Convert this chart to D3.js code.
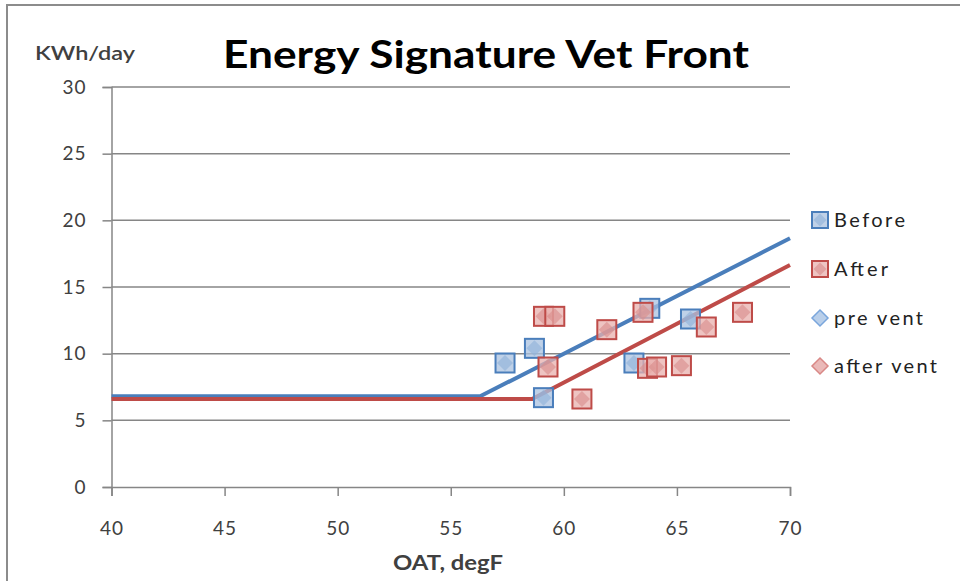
<!DOCTYPE html>
<html>
<head>
<meta charset="utf-8">
<script src="https://cdn.jsdelivr.net/npm/d3@7"></script>
<style>
  html, body { margin: 0; padding: 0; background: #fff; }
  svg { display: block; }
</style>
</head>
<body>
<svg id="chart" width="960" height="581"></svg>
<script>
// ---- Data ----
const title = "Energy Signature Vet Front";
const yAxisLabel = "KWh/day";
const xAxisLabel = "OAT, degF";
const xTicks = [40, 45, 50, 55, 60, 65, 70];
const yTicks = [0, 5, 10, 15, 20, 25, 30];

const beforeOAT = [57.4, 58.7, 59.1, 63.1, 63.8, 65.6];
const beforeKWh = [9.3, 10.4, 6.7, 9.3, 13.4, 12.6];

const afterOAT = [59.1, 59.6, 59.3, 60.8, 61.9, 63.5, 63.7, 64.1, 65.2, 66.3, 67.9];
const afterKWh = [12.8, 12.8, 9.0, 6.6, 11.8, 13.1, 8.9, 9.0, 9.1, 12.0, 13.1];

const preVentOAT = [40, 56.3, 70];
const preVentKWh = [6.8, 6.8, 18.65];
const afterVentOAT = [40, 58.6, 70];
const afterVentKWh = [6.6, 6.6, 16.65];

const legendLabels = ["Before", "After", "pre vent", "after vent"];

// ---- Layout ----
const svg = d3.select("#chart");
const x = d3.scaleLinear().domain([40, 70]).range([111.5, 790]);
const y = d3.scaleLinear().domain([0, 30]).range([487, 87]);

const blue = "#4a7ebb", blueFill = "#a9c1e0", blueInner = "#8fb0d8";
const red = "#be4b48", redFill = "#e8b0ae", redInner = "#d98c8a";
const axisColor = "#868686";
const fontFam = "Lato, 'Open Sans', 'DejaVu Sans', sans-serif";
const textColor = "#404040";

// outer chart border
svg.append("rect").attr("x", 7).attr("y", 5).attr("width", 970).attr("height", 600)
  .attr("fill", "none").attr("stroke", "#8c8c8c").attr("stroke-width", 2);

// gridlines
svg.append("g").selectAll("line").data(yTicks.filter(d => d > 0)).join("line")
  .attr("x1", x(40)).attr("x2", x(70))
  .attr("y1", d => y(d)).attr("y2", d => y(d))
  .attr("stroke", axisColor).attr("stroke-width", 1.5);

// y axis
const yAxis = d3.axisLeft(y).tickValues(yTicks).tickSize(9).tickPadding(16);
const gy = svg.append("g").attr("transform", `translate(${x(40)},0)`).call(yAxis);
gy.select(".domain").attr("stroke", axisColor).attr("stroke-width", 1.5);
gy.selectAll(".tick line").attr("stroke", axisColor).attr("stroke-width", 1.5);
gy.selectAll(".tick text").attr("font-family", fontFam).attr("font-size", 19)
  .attr("letter-spacing", 1).attr("fill", textColor);

// x axis
const xAxis = d3.axisBottom(x).tickValues(xTicks).tickSize(9).tickPadding(26);
const gx = svg.append("g").attr("transform", `translate(0,${y(0)})`).call(xAxis);
gx.select(".domain").attr("stroke", axisColor).attr("stroke-width", 1.5);
gx.selectAll(".tick line").attr("stroke", axisColor).attr("stroke-width", 1.5);
gx.selectAll(".tick text").attr("font-family", fontFam).attr("font-size", 19)
  .attr("letter-spacing", 1).attr("fill", textColor);

// lines
const line = d3.line().x(d => x(d[0])).y(d => y(d[1]));
svg.append("path").datum(d3.zip(preVentOAT, preVentKWh)).attr("d", line)
  .attr("fill", "none").attr("stroke", blue).attr("stroke-width", 4);
svg.append("path").datum(d3.zip(afterVentOAT, afterVentKWh)).attr("d", line)
  .attr("fill", "none").attr("stroke", red).attr("stroke-width", 4);

// square marker
function squareMarker(g, cx, cy, s, stroke, fill, inner) {
  g.append("rect").attr("x", cx - s / 2).attr("y", cy - s / 2).attr("width", s).attr("height", s)
    .attr("fill", fill).attr("fill-opacity", 0.75).attr("stroke", stroke).attr("stroke-width", 2);
  const h = s / 2 - 1.5;
  g.append("path").attr("d", `M${cx},${cy - h}L${cx + h},${cy}L${cx},${cy + h}L${cx - h},${cy}Z`)
    .attr("fill", inner).attr("fill-opacity", 0.6).attr("stroke", "none");
}

const gB = svg.append("g");
d3.zip(beforeOAT, beforeKWh).forEach(d => squareMarker(gB, x(d[0]), y(d[1]), 19, blue, blueFill, blueInner));
const gA = svg.append("g");
d3.zip(afterOAT, afterKWh).forEach(d => squareMarker(gA, x(d[0]), y(d[1]), 19, red, redFill, redInner));

// title
svg.append("text").attr("x", 486).attr("y", 68).attr("text-anchor", "middle")
  .attr("font-family", fontFam).attr("font-weight", "bold").attr("font-size", 38)
  .attr("fill", "#000").attr("textLength", 526).attr("lengthAdjust", "spacingAndGlyphs")
  .text(title);

// axis labels
svg.append("text").attr("x", 35).attr("y", 60).attr("font-family", fontFam)
  .attr("font-size", 19).attr("font-weight", 600).attr("fill", textColor)
  .attr("textLength", 100).attr("lengthAdjust", "spacingAndGlyphs").text(yAxisLabel);
svg.append("text").attr("x", 448).attr("y", 570).attr("text-anchor", "middle").attr("font-family", fontFam)
  .attr("font-size", 20).attr("font-weight", "bold").attr("fill", textColor)
  .attr("textLength", 110).attr("lengthAdjust", "spacingAndGlyphs").text(xAxisLabel);

// legend
const legY = [220, 269, 318, 366];
const legW = [71, 54, 89, 103];
const lg = svg.append("g");
legendLabels.forEach((lab, i) => {
  const cy = legY[i], cx = 820;
  if (i === 0) squareMarker(lg, cx, cy, 16, blue, blueFill, blueInner);
  else if (i === 1) squareMarker(lg, cx, cy, 16, red, redFill, redInner);
  else {
    const h = 8;
    lg.append("path").attr("d", `M${cx},${cy - h}L${cx + h},${cy}L${cx},${cy + h}L${cx - h},${cy}Z`)
      .attr("fill", i === 2 ? "#b9cfea" : "#eab9b8")
      .attr("stroke", i === 2 ? "#7aa6dc" : "#d98886").attr("stroke-width", 1.5);
  }
  lg.append("text").attr("x", 834).attr("y", cy + 7).attr("font-family", fontFam)
    .attr("font-size", 20).attr("fill", "#222")
    .attr("textLength", legW[i]).attr("lengthAdjust", "spacing").text(lab);
});
</script>
</body>
</html>
